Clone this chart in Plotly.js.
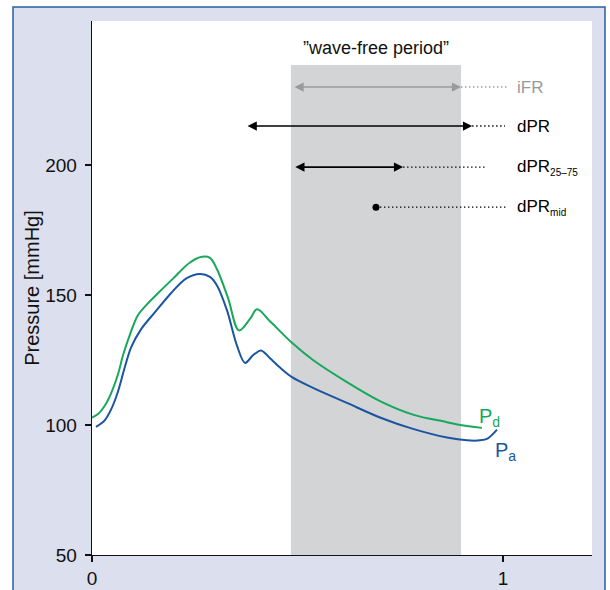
<!DOCTYPE html>
<html>
<head>
<meta charset="utf-8">
<script src="https://cdn.plot.ly/plotly-3.0.1.min.js"></script>
<style>html,body{margin:0;padding:0;background:#fff;}#chart{width:610px;height:590px;}</style>
</head>
<body>
<div id="chart"></div>
<script>
// Time (fraction of cardiac cycle) and pressures [mmHg]
const timePd = [0, 0.0146, 0.0309, 0.0462, 0.0633, 0.0754, 0.0925, 0.1119, 0.1314, 0.1606, 0.1971, 0.2384, 0.2676, 0.2871, 0.3041, 0.3309, 0.3577, 0.3844, 0.4015, 0.4331, 0.4866, 0.5377, 0.6204, 0.7007, 0.7810, 0.8637, 0.8954, 0.9489];
const pressurePd = [102.9, 104.2, 107.4, 112.1, 119.5, 126.8, 134.9, 142.3, 146.0, 150.7, 156.3, 162.5, 164.7, 164.3, 159.9, 148.9, 136.4, 140.8, 144.5, 139.9, 131.6, 125.0, 116.5, 109.2, 104.0, 101.1, 100.0, 98.9];
const timePa = [0.0097, 0.0309, 0.0462, 0.0633, 0.0796, 0.0949, 0.1192, 0.1533, 0.1922, 0.2287, 0.2628, 0.2871, 0.3041, 0.3285, 0.3528, 0.3723, 0.3917, 0.4112, 0.4331, 0.4574, 0.4866, 0.5377, 0.6204, 0.7007, 0.7810, 0.8637, 0.9124, 0.9440, 0.9635, 0.9854];
const pressurePa = [99.3, 101.8, 105.9, 112.9, 122.1, 129.8, 136.8, 143.4, 150.7, 156.3, 158.1, 157.0, 153.7, 144.1, 130.5, 123.9, 126.8, 128.7, 125.7, 122.1, 118.4, 114.3, 108.5, 102.9, 98.5, 95.2, 94.1, 94.1, 94.9, 98.2];

// Wave-free period window and index intervals (time)
const waveFree = [0.484, 0.898];
const ifrInterval = [0.489, 0.898];
const dprInterval = [0.375, 0.925];
const dpr2575Interval = [0.491, 0.757];
const dprMidPoint = 0.691;

// Axis ticks
const yTicks = [50, 100, 150, 200];
const xTicks = [0, 1];

const FONT = '"Liberation Sans", Arial, sans-serif';
const BLUE = '#1b55a0';
const GREEN = '#17a85c';
const GRAY = '#9a9a9a';

// layout rows for index arrows (y positions in axis units)
const rows = {ifr: 230, dpr: 215, d2575: 199.2, mid: 183.8};
const dotEnd = {ifr: 1.01, dpr: 1.005, d2575: 0.956, mid: 1.007};
const labelX = 1.03;

const traces = [
  {x: timePd, y: pressurePd, mode: 'lines', line: {color: GREEN, width: 2, shape: 'spline', smoothing: 1}, hoverinfo: 'skip'},
  {x: timePa, y: pressurePa, mode: 'lines', line: {color: BLUE, width: 2, shape: 'spline', smoothing: 0.9}, hoverinfo: 'skip'},
  {x: [dprMidPoint], y: [rows.mid], mode: 'markers', marker: {color: '#000', size: 7}, hoverinfo: 'skip'}
];

function arrow(iv, row, color) {
  return {x: iv[1], y: row, ax: iv[0], ay: row, xref: 'x', yref: 'y', axref: 'x', ayref: 'y',
    text: '', showarrow: true, arrowhead: 2, startarrowhead: 2, arrowside: 'end+start',
    arrowsize: 1.15, startarrowsize: 1.15, arrowwidth: 1.6, arrowcolor: color, standoff: 0, startstandoff: 0};
}
function dotted(x0, x1, row, color) {
  return {type: 'line', xref: 'x', yref: 'y', x0: x0, x1: x1, y0: row, y1: row,
    line: {color: color, width: 1.4, dash: '1.4px,2.6px'}, layer: 'above'};
}
function label(txt, row, color) {
  return {x: labelX, y: row, xref: 'x', yref: 'y', xanchor: 'left', yanchor: 'middle', showarrow: false,
    text: txt, font: {family: FONT, size: 17, color: color}};
}

const layout = {
  width: 610, height: 590,
  margin: {l: 92, r: 18, t: 21, b: 35},
  paper_bgcolor: '#ffffff',
  plot_bgcolor: '#ffffff',
  showlegend: false,
  font: {family: FONT, size: 19, color: '#111'},
  xaxis: {
    range: [0, 1.2166], tickvals: xTicks, ticktext: xTicks.map(String),
    showgrid: false, zeroline: false, showline: true, linecolor: '#111', linewidth: 1.3,
    ticks: 'outside', ticklen: 6, tickwidth: 1.3, tickcolor: '#111',
    tickfont: {family: FONT, size: 19, color: '#111'}, fixedrange: true
  },
  yaxis: {
    range: [50, 255.4], tickvals: yTicks, ticktext: yTicks.map(String),
    showgrid: false, zeroline: false, showline: true, linecolor: '#111', linewidth: 1.3,
    ticks: 'outside', ticklen: 6, tickwidth: 1.3, tickcolor: '#111',
    tickfont: {family: FONT, size: 19, color: '#111'}, ticklabelstandoff: 4,
    title: {text: 'Pressure [mmHg]', font: {family: FONT, size: 20, color: '#111'}, standoff: 0},
    fixedrange: true
  },
  shapes: [
    // outer figure frame
    {type: 'rect', xref: 'paper', yref: 'paper', x0: -0.158, x1: 1.026, y0: -0.12, y1: 1.0262,
      fillcolor: '#dcdfed', line: {color: '#2a5f9e', width: 1.5}, layer: 'below'},
    // white plotting area
    {type: 'rect', xref: 'paper', yref: 'paper', x0: 0, x1: 1, y0: 0, y1: 1,
      fillcolor: '#ffffff', line: {width: 0}, layer: 'below'},
    // wave-free period band
    {type: 'rect', xref: 'x', yref: 'y', x0: waveFree[0], x1: waveFree[1], y0: 50, y1: 238.5,
      fillcolor: '#d3d4d6', line: {width: 0}, layer: 'below'},
    dotted(ifrInterval[1], dotEnd.ifr, rows.ifr, GRAY),
    dotted(dprInterval[1], dotEnd.dpr, rows.dpr, '#000'),
    dotted(dpr2575Interval[1], dotEnd.d2575, rows.d2575, '#000'),
    dotted(dprMidPoint, dotEnd.mid, rows.mid, '#000')
  ],
  annotations: [
    {x: (waveFree[0] + waveFree[1]) / 2, y: 245, xref: 'x', yref: 'y', showarrow: false,
      text: '\u201Dwave-free period\u201D', font: {family: FONT, size: 18, color: '#111'}},
    arrow(ifrInterval, rows.ifr, GRAY),
    arrow(dprInterval, rows.dpr, '#000'),
    arrow(dpr2575Interval, rows.d2575, '#000'),
    label('iFR', rows.ifr, GRAY),
    label('dPR', rows.dpr, '#000'),
    label('dPR<sub><span style="font-size:10px">25\u201375</span></sub>', rows.d2575, '#000'),
    label('dPR<sub><span style="font-size:10px">mid</span></sub>', rows.mid, '#000'),
    {x: 0.968, y: 103, xref: 'x', yref: 'y', showarrow: false, text: 'P<sub>d</sub>',
      font: {family: FONT, size: 20, color: GREEN}},
    {x: 1.005, y: 89.7, xref: 'x', yref: 'y', showarrow: false, text: 'P<sub>a</sub>',
      font: {family: FONT, size: 20, color: BLUE}}
  ]
};

Plotly.newPlot('chart', traces, layout, {displayModeBar: false, staticPlot: true});
</script>
</body>
</html>
